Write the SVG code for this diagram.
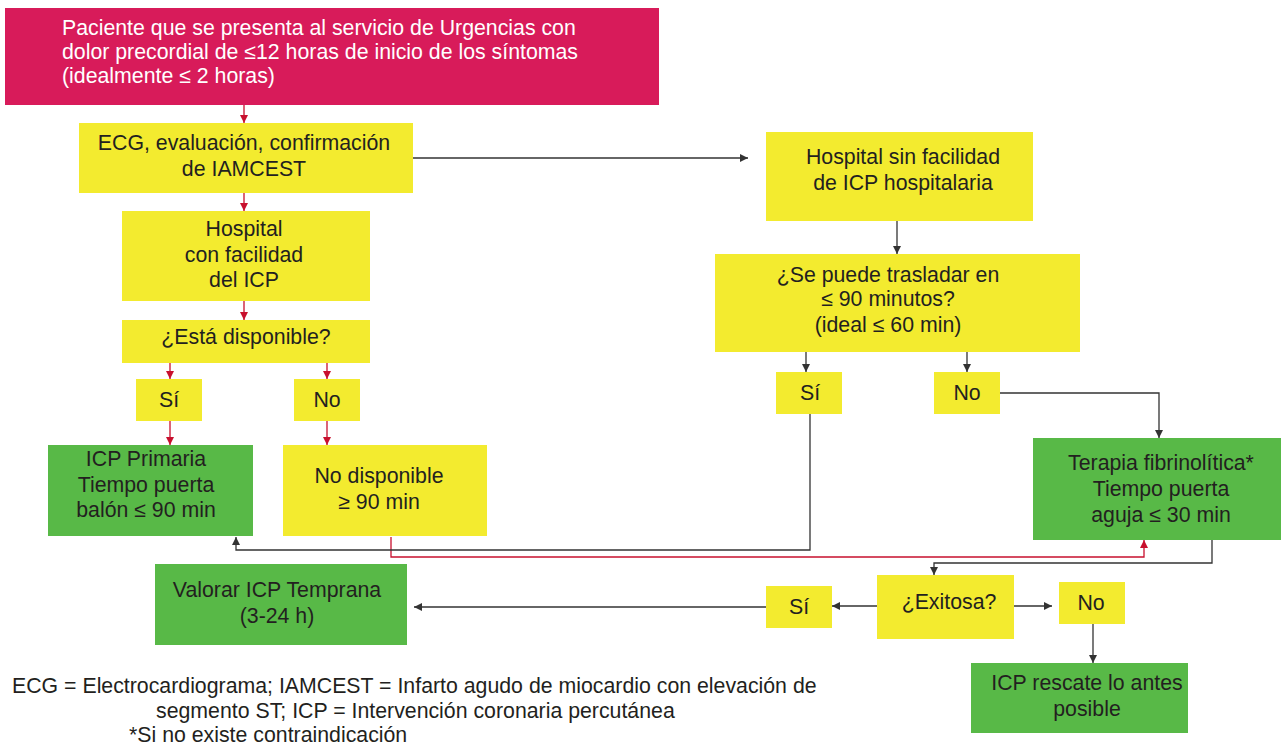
<svg xmlns="http://www.w3.org/2000/svg" width="1283" height="749" viewBox="0 0 1283 749">
<defs>
<style>
.t{font-family:"Liberation Sans",Arial,sans-serif;font-size:21.3px;fill:#231F20;text-anchor:middle}
.w{fill:#FFFFFF;text-anchor:start}
.f{font-family:"Liberation Sans",Arial,sans-serif;font-size:21.3px;fill:#231F20}
.cr{fill:#D81B5A}
.y{fill:#F3EB2F}
.g{fill:#58B947}
.k{fill:none;stroke:#333333;stroke-width:1.3}
.r{fill:none;stroke:#C8102E;stroke-width:1.3}
</style>
<marker id="ak" viewBox="0 0 10 10" refX="10" refY="5" markerWidth="8" markerHeight="8" markerUnits="userSpaceOnUse" orient="auto"><path d="M0 0 L10 5 L0 10 Z" fill="#333333"/></marker>
<marker id="ar" viewBox="0 0 10 10" refX="10" refY="5" markerWidth="8" markerHeight="8" markerUnits="userSpaceOnUse" orient="auto"><path d="M0 0 L10 5 L0 10 Z" fill="#C8102E"/></marker>
</defs>
<rect width="1283" height="749" fill="#FFFFFF"/>

<g id="connectors">
<path class="r" d="M244 105 V123" marker-end="url(#ar)"/>
<path class="r" d="M244 193 V211" marker-end="url(#ar)"/>
<path class="r" d="M244 301 V320" marker-end="url(#ar)"/>
<path class="r" d="M170 363 V379" marker-end="url(#ar)"/>
<path class="r" d="M327 363 V379" marker-end="url(#ar)"/>
<path class="r" d="M170 421 V445" marker-end="url(#ar)"/>
<path class="r" d="M327 421 V445" marker-end="url(#ar)"/>
<path class="r" d="M391 537 V557 H1144 V540" marker-end="url(#ar)"/>
<path class="k" d="M413 158 H748" marker-end="url(#ak)"/>
<path class="k" d="M897 221 V254" marker-end="url(#ak)"/>
<path class="k" d="M806 352 V372" marker-end="url(#ak)"/>
<path class="k" d="M967 352 V372" marker-end="url(#ak)"/>
<path class="k" d="M1000 393 H1159 V438" marker-end="url(#ak)"/>
<path class="k" d="M810 414 V550 H236 V537" marker-end="url(#ak)"/>
<path class="k" d="M1212 540 V563 H934 V575" marker-end="url(#ak)"/>
<path class="k" d="M877 606 H832" marker-end="url(#ak)"/>
<path class="k" d="M1014 606 H1052" marker-end="url(#ak)"/>
<path class="k" d="M1093 624 V663" marker-end="url(#ak)"/>
<path class="k" d="M766 607 H414" marker-end="url(#ak)"/>
</g>

<g id="inicio">
<rect class="cr" x="5" y="8" width="654" height="97"/>
<text class="t w" x="62" y="35">Paciente que se presenta al servicio de Urgencias con</text>
<text class="t w" x="62" y="59">dolor precordial de ≤12 horas de inicio de los síntomas</text>
<text class="t w" x="62" y="83">(idealmente ≤ 2 horas)</text>
</g>

<g id="ecg">
<rect class="y" x="79" y="123" width="334" height="70"/>
<text class="t" x="244" y="150">ECG, evaluación, confirmación</text>
<text class="t" x="244" y="176">de IAMCEST</text>
</g>

<g id="hospital-con">
<rect class="y" x="122" y="211" width="248" height="90"/>
<text class="t" x="244" y="236">Hospital</text>
<text class="t" x="244" y="262">con facilidad</text>
<text class="t" x="244" y="287">del ICP</text>
</g>

<g id="disponible">
<rect class="y" x="122" y="320" width="248" height="43"/>
<text class="t" x="246" y="344">¿Está disponible?</text>
</g>

<g id="si-izq">
<rect class="y" x="136" y="379" width="66" height="42"/>
<text class="t" x="169" y="407">Sí</text>
</g>

<g id="no-izq">
<rect class="y" x="294" y="379" width="66" height="42"/>
<text class="t" x="327" y="407">No</text>
</g>

<g id="icp-primaria">
<rect class="g" x="48" y="445" width="205" height="91"/>
<text class="t" x="146" y="466">ICP Primaria</text>
<text class="t" x="146" y="492">Tiempo puerta</text>
<text class="t" x="146" y="517">balón ≤ 90 min</text>
</g>

<g id="no-disponible">
<rect class="y" x="283" y="445" width="204" height="91"/>
<text class="t" x="379" y="483">No disponible</text>
<text class="t" x="379" y="509">≥ 90 min</text>
</g>

<g id="hospital-sin">
<rect class="y" x="766" y="132" width="267" height="89"/>
<text class="t" x="903" y="164">Hospital sin facilidad</text>
<text class="t" x="903" y="190">de ICP hospitalaria</text>
</g>

<g id="trasladar">
<rect class="y" x="715" y="254" width="365" height="98"/>
<text class="t" x="888" y="282">¿Se puede trasladar en</text>
<text class="t" x="888" y="306">≤ 90 minutos?</text>
<text class="t" x="888" y="332">(ideal ≤ 60 min)</text>
</g>

<g id="si-der">
<rect class="y" x="776" y="372" width="66" height="42"/>
<text class="t" x="810" y="400">Sí</text>
</g>

<g id="no-der">
<rect class="y" x="934" y="372" width="66" height="42"/>
<text class="t" x="967" y="400">No</text>
</g>

<g id="terapia">
<rect class="g" x="1033" y="438" width="248" height="102"/>
<text class="t" x="1161" y="470">Terapia fibrinolítica*</text>
<text class="t" x="1161" y="496">Tiempo puerta</text>
<text class="t" x="1161" y="522">aguja ≤ 30 min</text>
</g>

<g id="exitosa">
<rect class="y" x="877" y="575" width="137" height="64"/>
<text class="t" x="949" y="609">¿Exitosa?</text>
</g>

<g id="si-exitosa">
<rect class="y" x="766" y="586" width="66" height="42"/>
<text class="t" x="799" y="614">Sí</text>
</g>

<g id="no-exitosa">
<rect class="y" x="1059" y="582" width="66" height="42"/>
<text class="t" x="1091" y="610">No</text>
</g>

<g id="valorar">
<rect class="g" x="155" y="564" width="252" height="81"/>
<text class="t" x="277" y="597">Valorar ICP Temprana</text>
<text class="t" x="277" y="623">(3-24 h)</text>
</g>

<g id="rescate">
<rect class="g" x="971" y="663" width="217" height="70"/>
<text class="t" x="1087" y="690">ICP rescate lo antes</text>
<text class="t" x="1087" y="716">posible</text>
</g>

<g id="nota">
<text class="f" x="12" y="693">ECG = Electrocardiograma; IAMCEST = Infarto agudo de miocardio con elevación de</text>
<text class="f" x="156" y="718">segmento ST; ICP = Intervención coronaria percutánea</text>
<text class="f" x="129" y="742">*Si no existe contraindicación</text>
</g>
</svg>
